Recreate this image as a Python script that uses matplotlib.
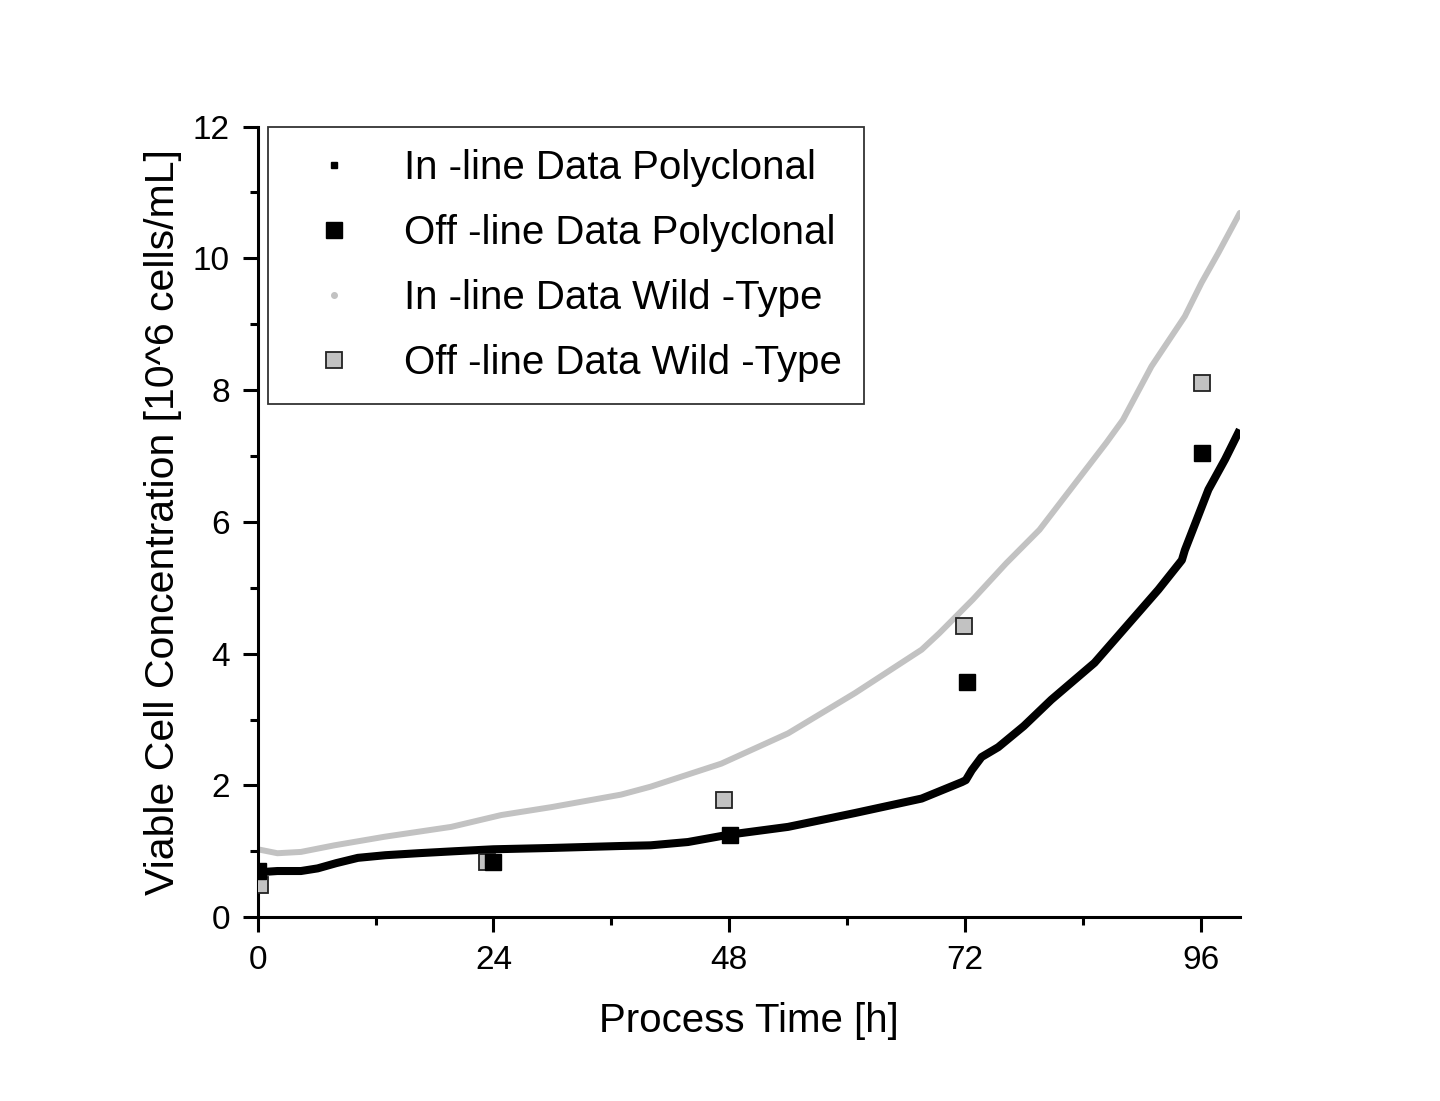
import matplotlib
matplotlib.use("Agg")
import matplotlib.pyplot as plt
from matplotlib.lines import Line2D
from matplotlib.ticker import MultipleLocator

plt.rcParams["font.family"] = ["Liberation Sans", "DejaVu Sans"]

# ---- Data -------------------------------------------------------------------
# in-line polyclonal (black trace)
t_poly = [0, 2, 4.4, 6.1, 8, 10.2, 13, 16.3, 20, 24, 29.9, 37, 40, 43.8, 47.9,
          54, 60.8, 67.6, 71.7, 72.1, 72.7, 73.7, 75.4, 78, 80.8, 85.2, 89.3,
          91.7, 94.1, 94.4, 96.8, 98.5, 100]
v_poly = [0.68, 0.70, 0.70, 0.74, 0.82, 0.90, 0.94, 0.97, 1.00, 1.03, 1.05,
          1.08, 1.09, 1.14, 1.25, 1.37, 1.58, 1.80, 2.05, 2.08, 2.23, 2.43,
          2.58, 2.90, 3.30, 3.86, 4.56, 4.97, 5.42, 5.57, 6.49, 6.95, 7.40]

# in-line wild-type (grey trace)
t_wt = [0, 2, 4.4, 7.8, 12.9, 19.7, 24.8, 29.9, 37, 40, 47.2, 54, 60.8, 67.6,
        69.4, 72.8, 76.2, 79.6, 83.0, 86.4, 88.1, 91.0, 94.4, 96.1, 97.8, 100]
v_wt = [1.03, 0.97, 0.99, 1.09, 1.22, 1.37, 1.55, 1.67, 1.86, 1.98, 2.33,
        2.79, 3.40, 4.06, 4.31, 4.82, 5.37, 5.88, 6.54, 7.20, 7.55, 8.36,
        9.12, 9.63, 10.08, 10.69]

# off-line samples
t_off_poly = [0.0, 24.0, 48.1, 72.2, 96.1]
v_off_poly = [0.70, 0.83, 1.25, 3.57, 7.05]
t_off_wt = [0.2, 23.3, 47.5, 71.9, 96.1]
v_off_wt = [0.49, 0.83, 1.78, 4.42, 8.11]

labels = ["In -line Data Polyclonal", "Off -line Data Polyclonal",
          "In -line Data Wild -Type", "Off -line Data Wild -Type"]

grey = "#c2c2c2"

fig = plt.figure(figsize=(14.4, 11.01), dpi=100)
ax = fig.add_axes([0.179, 0.167, 0.682, 0.718])

ax.plot(t_wt, v_wt, color=grey, lw=4.3, solid_capstyle="round",
        solid_joinstyle="round", zorder=2)
ax.plot(t_poly, v_poly, color="black", lw=5.8, solid_capstyle="butt",
        solid_joinstyle="round", zorder=3)
ax.plot(t_off_wt, v_off_wt, ls="none", marker="s", ms=11.5, mfc=grey,
        mec="#222222", mew=1.3, zorder=4)
ax.plot(t_off_poly, v_off_poly, ls="none", marker="s", ms=12, mfc="black",
        mec="black", zorder=5)

ax.set_xlim(0, 100)
ax.set_ylim(0, 12)
ax.xaxis.set_major_locator(MultipleLocator(24))
ax.xaxis.set_minor_locator(MultipleLocator(12))
ax.yaxis.set_major_locator(MultipleLocator(2))
ax.yaxis.set_minor_locator(MultipleLocator(1))

for side in ("top", "right"):
    ax.spines[side].set_visible(False)
for side in ("left", "bottom"):
    ax.spines[side].set_linewidth(2.2)

ax.tick_params(which="major", direction="out", length=11, width=2.2,
               labelsize=24, pad=9)
ax.tick_params(which="minor", direction="out", length=6, width=2.2)

ax.set_xlabel("Process Time [h]", fontsize=29, labelpad=19)
ax.set_ylabel("Viable Cell Concentration [10^6 cells/mL]", fontsize=29.5,
              labelpad=8)

handles = [
    Line2D([], [], ls="none", marker="s", ms=4, color="black"),
    Line2D([], [], ls="none", marker="s", ms=12, color="black"),
    Line2D([], [], ls="none", marker="o", ms=4, color=grey),
    Line2D([], [], ls="none", marker="s", ms=11, mfc=grey, mec="#222222", mew=1.3),
]
leg = ax.legend(handles, labels, loc="upper left", bbox_to_anchor=(0.0102, 1.0),
                borderaxespad=0, fontsize=29, frameon=True, fancybox=False,
                edgecolor="black", handlelength=2.2, handletextpad=0.63,
                labelspacing=0.67, borderpad=0.55)
leg.get_frame().set_linewidth(1.3)

fig.savefig("out.png", dpi=100)
